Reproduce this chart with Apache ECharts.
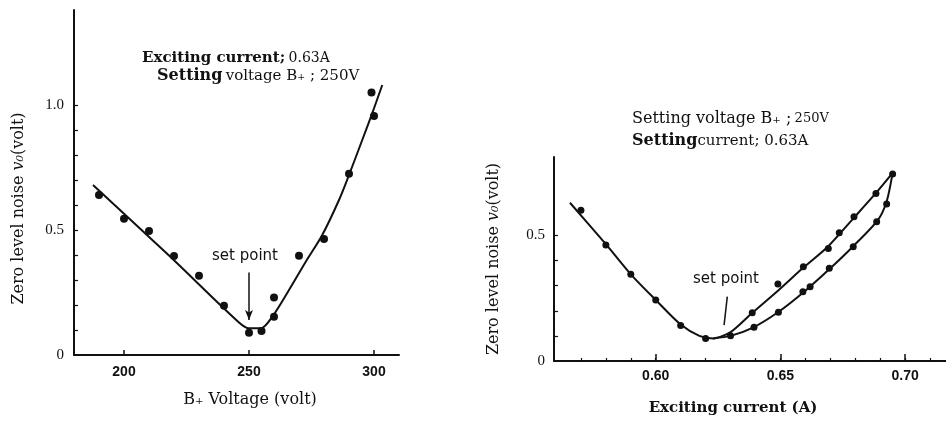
<!DOCTYPE html>
<html>
<head>
<meta charset="utf-8">
<script src="https://cdn.jsdelivr.net/npm/echarts@6/dist/echarts.min.js"></script>
<style>
  html, body { margin: 0; padding: 0; background: #fff; }
  #chart { width: 946px; height: 421px; }
</style>
</head>
<body>
<div id="chart"></div>
<script>
// left panel: noise vs B+ voltage
const voltPoints = [
  [190, 0.64], [200, 0.545], [210, 0.496], [220, 0.396], [230, 0.317],
  [240, 0.197], [250, 0.089], [255, 0.096], [260, 0.23], [260, 0.153],
  [270, 0.397], [280, 0.464], [290, 0.725], [299, 1.05], [300, 0.956]
];
const voltCurve = [
  [187.6, 0.68], [218, 0.398], [246, 0.13], [250, 0.107], [254.7, 0.107],
  [259.3, 0.153], [266, 0.26], [272.7, 0.373], [279.3, 0.48], [286, 0.62],
  [290, 0.72], [295.3, 0.86], [299.3, 0.967], [303.3, 1.08]
];
const voltLabels = [200, 250, 300];
const noiseLabelsL = [0, 0.5, 1.0];
const noiseTicksL = [0.1, 0.2, 0.3, 0.4, 0.5, 0.6, 0.7, 0.8, 0.9, 1.0];

// right panel: noise vs exciting current
const currentPoints = [
  [0.57, 0.60], [0.58, 0.462], [0.59, 0.345], [0.60, 0.243], [0.61, 0.141], [0.62, 0.09],
  [0.6387, 0.192], [0.649, 0.306], [0.6592, 0.375], [0.6692, 0.448], [0.6736, 0.51],
  [0.6795, 0.574], [0.6883, 0.667], [0.695, 0.744],
  [0.63, 0.101], [0.6394, 0.134], [0.6492, 0.194], [0.659, 0.276], [0.6619, 0.296],
  [0.6696, 0.369], [0.6792, 0.455], [0.6886, 0.554], [0.6926, 0.625]
];
const currentCurveUp = [
  [0.5656, 0.63], [0.58, 0.465], [0.59, 0.345], [0.60, 0.243],
  [0.61, 0.145], [0.6175, 0.1], [0.623, 0.09], [0.63, 0.115], [0.6385, 0.19],
  [0.649, 0.28], [0.659, 0.37], [0.669, 0.455], [0.679, 0.565], [0.688, 0.665], [0.695, 0.749]
];
const currentCurveDown = [
  [0.623, 0.09], [0.63, 0.1], [0.639, 0.133], [0.649, 0.194], [0.66, 0.28],
  [0.67, 0.369], [0.679, 0.455], [0.689, 0.56], [0.6926, 0.635], [0.695, 0.749]
];
const currentLabels = [0.60, 0.65, 0.70];
const currentTicks = [0.57, 0.58, 0.59, 0.60, 0.61, 0.62, 0.63, 0.64, 0.65, 0.66, 0.67, 0.68, 0.69, 0.70, 0.71];
const noiseLabelsR = [0, 0.5];
const noiseTicksR = [0.1, 0.2, 0.3, 0.4, 0.5];

const serif = '"Liberation Serif", "DejaVu Serif", serif';
const wide = '"DejaVu Serif", "Liberation Serif", serif';
const sans = '"Liberation Sans", Arial, sans-serif';
const ink = '#111';

const chart = echarts.init(document.getElementById('chart'));

const baseAxis = {
  axisLine: { show: true, lineStyle: { color: ink, width: 2 } },
  splitLine: { show: false },
  nameMoveOverlap: false
};

const nameRich = { i: { fontFamily: wide, fontStyle: 'italic', fontSize: 16, color: ink } };

const option = {
  animation: false,
  backgroundColor: '#fff',
  grid: [
    { left: 74, top: 10, width: 325, height: 345, outerBoundsMode: 'none' },
    { left: 554, top: 157, width: 392, height: 204, outerBoundsMode: 'none' }
  ],
  xAxis: [
    {
      ...baseAxis, type: 'value', gridIndex: 0, min: 180, max: 310,
      name: 'B\u208A Voltage (volt)', nameLocation: 'middle', nameGap: 37,
      nameTextStyle: { fontFamily: wide, fontSize: 16, color: ink, padding: [0, 0, 0, 27] },
      axisTick: { show: true, inside: true, length: 5, customValues: voltLabels, lineStyle: { color: ink, width: 1.5 } },
      axisLabel: { customValues: voltLabels, margin: 10, fontFamily: sans, fontWeight: 'bold', fontSize: 14, color: ink }
    },
    {
      ...baseAxis, type: 'value', gridIndex: 1, position: 'bottom', min: 0.5592, max: 0.7164,
      name: 'Exciting current (A)', nameLocation: 'middle', nameGap: 40,
      nameTextStyle: { fontFamily: wide, fontWeight: 'bold', fontSize: 15, color: ink, padding: [0, 34, 0, 0] },
      axisTick: { show: true, inside: true, length: 3, customValues: currentTicks, lineStyle: { color: ink, width: 1.2 } },
      axisLabel: { customValues: currentLabels, margin: 8, fontFamily: sans, fontWeight: 'bold', fontSize: 14, color: ink,
        formatter: v => v.toFixed(2) }
    },
    {
      type: 'value', gridIndex: 1, position: 'bottom', offset: 0, min: 0.5592, max: 0.7164,
      axisLine: { show: false }, splitLine: { show: false }, axisLabel: { show: false },
      axisTick: { show: true, inside: true, length: 7, customValues: currentLabels, lineStyle: { color: ink, width: 1.5 } }
    }
  ],
  yAxis: [
    {
      ...baseAxis, type: 'value', gridIndex: 0, min: 0, max: 1.38,
      name: 'Zero level noise {i|v\u2080}(volt)', nameLocation: 'middle', nameGap: 47, nameRotate: 90,
      nameTextStyle: { fontFamily: wide, fontSize: 16, color: ink, padding: [0, 52, 0, 0], rich: nameRich },
      axisTick: { show: true, inside: true, length: 4, customValues: noiseTicksL, lineStyle: { color: ink, width: 1.2 } },
      axisLabel: { customValues: noiseLabelsL, margin: 10, fontFamily: serif, fontSize: 15, color: ink,
        formatter: v => v === 0 ? '0' : v.toFixed(1) }
    },
    {
      ...baseAxis, type: 'value', gridIndex: 1, min: 0, max: 0.812,
      name: 'Zero level noise {i|v\u2080}(volt)', nameLocation: 'middle', nameGap: 52, nameRotate: 90,
      nameTextStyle: { fontFamily: wide, fontSize: 16, color: ink, rich: nameRich },
      axisTick: { show: true, inside: true, length: 4, customValues: noiseTicksR, lineStyle: { color: ink, width: 1.2 } },
      axisLabel: { customValues: noiseLabelsR, margin: 9, fontFamily: serif, fontSize: 15, color: ink,
        formatter: v => v === 0 ? '0' : v.toFixed(1) }
    }
  ],
  series: [
    {
      type: 'line', xAxisIndex: 0, yAxisIndex: 0, data: voltCurve,
      smooth: 0.3, showSymbol: false,
      lineStyle: { color: ink, width: 2 },
      markLine: {
        silent: true, symbol: ['none', 'arrow'], symbolSize: [6, 10],
        lineStyle: { color: ink, width: 1.5, type: 'solid' }, label: { show: false },
        data: [[{ coord: [250, 0.33] }, { coord: [250, 0.14] }]]
      }
    },
    {
      type: 'scatter', xAxisIndex: 0, yAxisIndex: 0, data: voltPoints,
      symbolSize: 8, itemStyle: { color: ink, opacity: 1 }
    },
    {
      type: 'line', xAxisIndex: 1, yAxisIndex: 1, data: currentCurveUp,
      smooth: 0.25, showSymbol: false,
      lineStyle: { color: ink, width: 2 },
      markLine: {
        silent: true, symbol: ['none', 'none'],
        lineStyle: { color: ink, width: 1.5, type: 'solid' }, label: { show: false },
        data: [[{ coord: [0.6287, 0.256] }, { coord: [0.6274, 0.143] }]]
      }
    },
    {
      type: 'line', xAxisIndex: 1, yAxisIndex: 1, data: currentCurveDown,
      smooth: 0.25, showSymbol: false,
      lineStyle: { color: ink, width: 2 }
    },
    {
      type: 'scatter', xAxisIndex: 1, yAxisIndex: 1, data: currentPoints,
      symbolSize: 7, itemStyle: { color: ink, opacity: 1 }
    }
  ],
  graphic: [
    { type: 'text', left: 142, top: 51, style: {
        text: '{b|Exciting current;} {s|0.63A}',
        rich: { b: { fontFamily: wide, fontWeight: 'bold', fontSize: 15, fill: ink },
                s: { fontFamily: wide, fontSize: 14, fill: ink } } } },
    { type: 'text', left: 157, top: 68, style: {
        text: '{b|Setting} {s|voltage B\u208A ; 250V}',
        rich: { b: { fontFamily: wide, fontWeight: 'bold', fontSize: 16, fill: ink },
                s: { fontFamily: wide, fontSize: 15, fill: ink } } } },
    { type: 'text', left: 212, top: 249, style: {
        text: 'set point', fontFamily: '"DejaVu Sans", sans-serif', fontSize: 15, fill: ink } },
    { type: 'text', left: 632, top: 111, style: {
        text: '{b|Setting voltage B\u208A ;} {s|250V}',
        rich: { b: { fontFamily: wide, fontSize: 16, fill: ink },
                s: { fontFamily: wide, fontSize: 13, fill: ink } } } },
    { type: 'text', left: 632, top: 133, style: {
        text: '{b|Setting}{s|current; 0.63A}',
        rich: { b: { fontFamily: wide, fontWeight: 'bold', fontSize: 16, fill: ink },
                s: { fontFamily: wide, fontSize: 15, fill: ink } } } },
    { type: 'text', left: 693, top: 272, style: {
        text: 'set point', fontFamily: '"DejaVu Sans", sans-serif', fontSize: 15, fill: ink } }
  ]
};

chart.setOption(option);
window.addEventListener('resize', () => chart.resize());
</script>
</body>
</html>
